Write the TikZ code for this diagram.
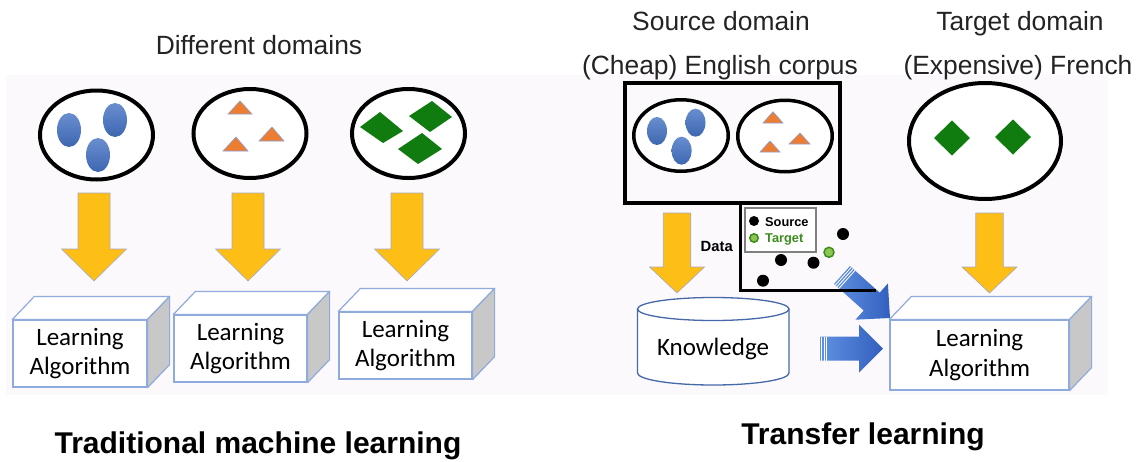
\documentclass[tikz,border=0pt]{standalone}
\usepackage{fontspec}
\setmainfont{Liberation Sans}
\newfontfamily\calibri{Carlito}
\usetikzlibrary{calc,shapes.geometric}

\definecolor{pagepale}{RGB}{251,249,252}
\definecolor{blobblue}{RGB}{68,114,196}
\definecolor{triorange}{RGB}{237,125,49}
\definecolor{triedge}{RGB}{140,160,215}
\definecolor{diagreen}{RGB}{16,124,16}
\definecolor{arryellow}{RGB}{253,190,22}
\definecolor{arredge}{RGB}{170,170,190}
\definecolor{cubeedge}{RGB}{143,170,220}
\definecolor{cubeside}{RGB}{200,200,200}
\definecolor{cylblue}{RGB}{70,105,170}
\definecolor{arrlight}{RGB}{95,145,225}
\definecolor{arrdark}{RGB}{50,95,190}
\definecolor{srcgreen}{RGB}{60,140,30}
\definecolor{tgtfill}{RGB}{140,200,80}
\definecolor{textgray}{RGB}{35,35,35}

\tikzset{
  domainell/.style={ellipse,draw=black,line width=4pt,fill=white,inner sep=0pt},
  blob/.style={top color=blobblue!80!white,bottom color=blobblue!90!black},
  tri/.style={fill=triorange,draw=triedge,line width=0.6pt},
  dia/.style={fill=diagreen},
  yblock/.style={fill=arryellow,draw=arredge,line width=0.6pt},
  bblock/.style={left color=arrlight,right color=arrdark},
  algfront/.style={draw=cubeedge,line width=1.2pt,fill=white,align=center,
    font=\calibri\fontsize{25}{29.5}\selectfont},
  cubeface/.style={draw=cubeedge,line width=1.2pt,line join=round},
  heading/.style={anchor=base,text=textgray,font=\fontsize{26.4}{30}\selectfont},
  bigtitle/.style={anchor=base,font=\bfseries\fontsize{30}{34}\selectfont}
}

% block arrow: style, tail, tip, half shaft, half head, head length
\newcommand{\fatarrow}[6]{%
  \coordinate (#2h) at ($(#3)!#6!(#2)$);
  \path[#1] ($(#2)!#4!90:(#3)$) -- ($(#2h)!#4!90:(#3)$) -- ($(#2h)!#5!90:(#3)$)
    -- (#3) -- ($(#2h)!#5!-90:(#3)$) -- ($(#2h)!#4!-90:(#3)$)
    -- ($(#2)!#4!-90:(#3)$) -- cycle;
}
% white cuts at the tail of a blue arrow
\newcommand{\tailcuts}[3]{%
  \foreach \d in {1.8pt,4.2pt,6.6pt}{
    \coordinate (cut) at ($(#1)!\d!(#2)$);
    \draw[white,line width=0.9pt] ($(cut)!#3!90:(#2)$) -- ($(cut)!#3!-90:(#2)$);
  }
}
% top and side of a learning box
\newcommand{\cubesides}[1]{%
  \draw[cubeface,fill=white] (#1.north west) -- ++(22,-23) -- ($(#1.north east)+(22,-23)$)
    -- (#1.north east) -- cycle;
  \draw[cubeface,fill=cubeside] (#1.north east) -- ++(22,-23) -- ($(#1.south east)+(22,-23)$)
    -- (#1.south east) -- cycle;
}

\begin{document}
\begin{tikzpicture}[x=1pt,y=-1pt]
\useasboundingbox (0,0) rectangle (1141,461);
\fill[pagepale] (6,75) rectangle (1108,395);

% traditional machine learning
\node[heading] (diff) at (259,54) {Different domains};
\node[domainell,minimum width=113pt,minimum height=89pt] (tr1) at (96.5,135) {};
\node[domainell,minimum width=113pt,minimum height=89pt] (tr2) at (250,133.5) {};
\node[domainell,minimum width=113pt,minimum height=89pt] (tr3) at (408.5,133.5) {};

\path[blob] (69,130) ellipse (12 and 17);
\path[blob] (115,120) ellipse (12 and 17);
\path[blob] (98,155) ellipse (12 and 17);

\filldraw[tri] (228,114) -- (240,101) -- (252,114) -- cycle;
\filldraw[tri] (259,141) -- (272,127) -- (284,141) -- cycle;
\filldraw[tri] (223,151) -- (236,137) -- (248,151) -- cycle;

\fill[dia] (360,127) -- (380,112) -- (403,131) -- (383,143) -- cycle;
\fill[dia] (409,116) -- (432,101) -- (452,117) -- (430,132) -- cycle;
\fill[dia] (398,149) -- (422,133) -- (442,149) -- (418,164) -- cycle;

\coordinate (y1s) at (94,193);    \coordinate (y1e) at (94,281);
\coordinate (y2s) at (248,193);   \coordinate (y2e) at (248,281);
\coordinate (y3s) at (407,193);   \coordinate (y3e) at (407,281);
\fatarrow{yblock}{y1s}{y1e}{16pt}{32.5pt}{32pt}
\fatarrow{yblock}{y2s}{y2e}{16pt}{32.5pt}{32pt}
\fatarrow{yblock}{y3s}{y3e}{16pt}{32.5pt}{32pt}

\node[algfront,minimum width=134pt,minimum height=67pt] (alg1) at (80,353.5) {Learning\\Algorithm};
\node[algfront,minimum width=133pt,minimum height=67pt] (alg2) at (240.5,348.5) {Learning\\Algorithm};
\node[algfront,minimum width=133pt,minimum height=67pt] (alg3) at (405.5,345.5) {Learning\\Algorithm};
\cubesides{alg1}
\cubesides{alg2}
\cubesides{alg3}

\node[bigtitle] (tradt) at (258,453) {Traditional machine learning};

% transfer learning
\node[heading] (srcd) at (721,30) {Source domain};
\node[heading] (tgtd) at (1020,30) {Target domain};
\node[heading] (srcc) at (720,74) {(Cheap) English corpus};
\node[heading] (tgtc) at (1018,74) {(Expensive) French};

\node[draw=black,line width=4.5pt,minimum width=215pt,minimum height=120pt] (corpus) at (732.5,143) {};
\node[domainell,line width=3.5pt,minimum width=94.5pt,minimum height=71.5pt] (src1) at (681,135.5) {};
\node[domainell,line width=3.5pt,minimum width=94.5pt,minimum height=71.5pt] (src2) at (785,136) {};
\node[domainell,minimum width=152pt,minimum height=116pt] (tgt) at (985,141) {};

\path[blob] (657,131) ellipse (10 and 14);
\path[blob] (695.5,122.7) ellipse (10 and 14);
\path[blob] (681.6,150.7) ellipse (10 and 14);

\filldraw[tri] (763,123) -- (773,111.7) -- (783,123) -- cycle;
\filldraw[tri] (789,144) -- (800,133) -- (810,144) -- cycle;
\filldraw[tri] (760,152) -- (770,141) -- (780,152) -- cycle;

\fill[dia] (934,138) -- (952,120.5) -- (970,138) -- (952,155.5) -- cycle;
\fill[dia] (995,137) -- (1013,119.5) -- (1031,137) -- (1013,154.5) -- cycle;

\coordinate (y4s) at (677,213);   \coordinate (y4e) at (677,293);
\coordinate (y5s) at (989.5,213); \coordinate (y5e) at (989.5,293);
\fatarrow{yblock}{y4s}{y4e}{13.75pt}{27.5pt}{26pt}
\fatarrow{yblock}{y5s}{y5e}{13.75pt}{27.5pt}{26pt}

\draw[cylblue,line width=1.3pt,fill=white] (637.5,309) -- (637.5,373) arc (180:0:75.75 and 12) -- (789,309);
\draw[cylblue,line width=1.3pt,fill=white] (713.25,309) ellipse (75.75 and 11.5);
\node[anchor=base,font=\calibri\fontsize{25}{30}\selectfont] (know) at (713,355) {Knowledge};

\node[algfront,minimum width=179pt,minimum height=70pt] (alg4) at (979.5,355) {Learning\\Algorithm};
\cubesides{alg4}

\coordinate (b1s) at (820,348.7); \coordinate (b1e) at (883,348.7);
\coordinate (b2s) at (842,275);   \coordinate (b2e) at (890,318);
\fatarrow{bblock}{b1s}{b1e}{12pt}{24pt}{24pt}
\fatarrow{bblock}{b2s}{b2e}{12pt}{24.3pt}{24.6pt}
\tailcuts{b1s}{b1e}{12pt}
\tailcuts{b2s}{b2e}{12pt}

% data plot
\draw[line width=3pt] (740.6,205) -- (740.6,290) -- (876,290);
\node[draw=gray,line width=1.3pt,fill=white,minimum width=71pt,minimum height=44pt] (legend) at (780.5,230) {};
\fill (754,221) circle (5);
\filldraw[fill=tgtfill,draw=srcgreen,line width=1.5pt] (754,238) circle (4.2);
\node[anchor=base west,inner sep=0pt,font=\bfseries\fontsize{12.8}{14}\selectfont] (srcl) at (765,226) {Source};
\node[anchor=base west,inner sep=0pt,text=srcgreen,font=\bfseries\fontsize{12.8}{14}\selectfont] (tgtl) at (765,242.7) {Target};
\node[anchor=base east,inner sep=0pt,font=\bfseries\fontsize{14.8}{16}\selectfont] (data) at (733,251.7) {Data};
\fill (843,234) circle (6);
\fill (781,260) circle (6);
\fill (813.5,262.7) circle (6);
\fill (763,280.7) circle (6);
\filldraw[fill=tgtfill,draw=srcgreen,line width=1.5pt] (829,252.3) circle (5);

\node[bigtitle] (trant) at (863,444) {Transfer learning};
\end{tikzpicture}
\end{document}
